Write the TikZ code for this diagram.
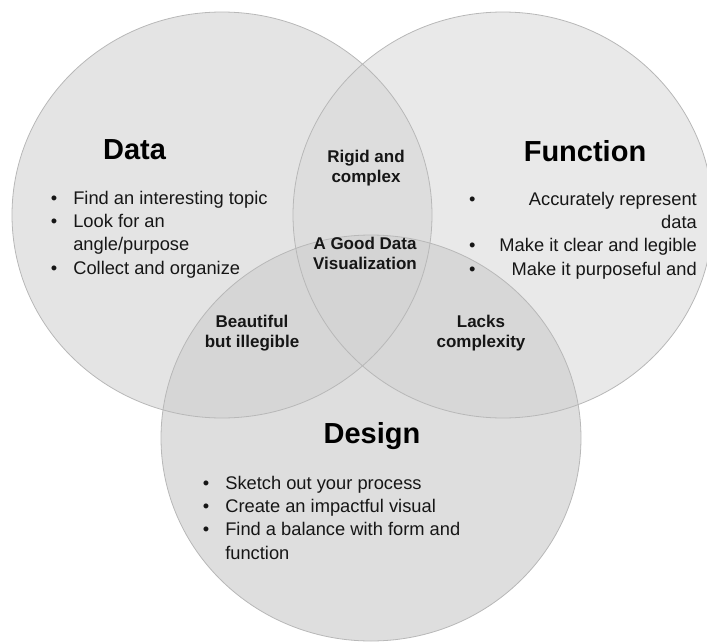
\documentclass[tikz,border=0pt]{standalone}
\usepackage{fontspec}
\setmainfont{Liberation Sans}
\usepackage{tikz}
\usetikzlibrary{matrix,positioning}
\usepackage{xcolor}
\definecolor{ringgray}{HTML}{B8B8B8}
\definecolor{inkgray}{HTML}{161616}
\definecolor{datafill}{gray}{0.824}
\definecolor{funcfill}{gray}{0.855}
\definecolor{designfill}{gray}{0.82}
\tikzset{
  ring/.style={draw=ringgray, line width=0.8pt},
}

\begin{document}
\begin{tikzpicture}[x=1pt,y=-1pt,
            title/.style={font=\fontsize{29}{33}\selectfont\bfseries,inner sep=0pt,anchor=base,text=black},
            overlap/.style={font=\fontsize{17}{19.5}\selectfont\bfseries,align=center,inner sep=0pt,anchor=base,text=inkgray},
            list/.style={matrix of nodes,inner sep=0pt,row sep=5.3pt,nodes={inner sep=0pt,text height=14pt,text depth=4pt,text=inkgray,font=\fontsize{18.3}{22}\selectfont},column 1/.style={anchor=base}}]
            \useasboundingbox (0,0) rectangle (707,643);

            % the three sets
            \fill [datafill, fill opacity=0.6] (222,215) ellipse [x radius=210, y radius=203];
            \fill [funcfill, fill opacity=0.6] (503,215) ellipse [x radius=210, y radius=203];
            \fill [designfill, fill opacity=0.72] (371,438) ellipse [x radius=210, y radius=203];
            \draw [ring] (222,215) ellipse [x radius=210, y radius=203];
            \draw [ring] (503,215) ellipse [x radius=210, y radius=203];
            \draw [ring] (371,438) ellipse [x radius=210, y radius=203];

            \node (datatitle)[title] at (134.5,159) {Data};
            \node (functitle)[title] at (585,161) {Function};
            \node (designtitle)[title] at (372,443) {Design};

            \matrix (datalist)[list, anchor=north west, column sep=16pt, column 2/.style={anchor=base west}] at (50.7,190)
            {
                \textbullet & Find an interesting topic \\
                \textbullet & Look for an \\
                            & angle/purpose \\
                \textbullet & Collect and organize \\
            };
            \matrix (funclist)[list, anchor=north east, column sep=24pt, column 2/.style={anchor=base east}] at (697,191)
            {
                \textbullet & Accurately represent \\
                            & data \\
                \textbullet & Make it clear and legible \\
                \textbullet & Make it purposeful and \\
            };
            \matrix (designlist)[list, anchor=north west, column sep=16pt, column 2/.style={anchor=base west}] at (202.7,475)
            {
                \textbullet & Sketch out your process \\
                \textbullet & Create an impactful visual \\
                \textbullet & Find a balance with form and \\
                            & function \\
            };

            \node (rigid)[overlap] at (366,182) {Rigid and\\complex};
            \node (good)[overlap] at (365,269) {A Good Data\\Visualization};
            \node (beautiful)[overlap] at (252,347) {Beautiful\\but illegible};
            \node (lacks)[overlap] at (481,347) {Lacks\\complexity};
         \end{tikzpicture}
\end{document}
